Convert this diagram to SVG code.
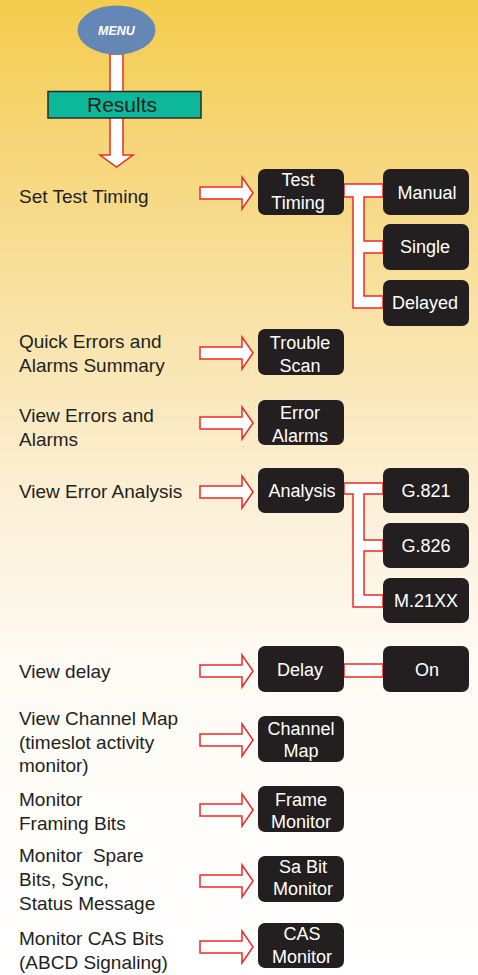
<svg xmlns="http://www.w3.org/2000/svg" width="478" height="975" viewBox="0 0 478 975">
<defs>
<linearGradient id="bg" gradientUnits="userSpaceOnUse" x1="0" y1="0" x2="0" y2="975">
<stop offset="0" stop-color="#f4cc4c"/>
<stop offset="0.15" stop-color="#f6d679"/>
<stop offset="0.33" stop-color="#f9e3a8"/>
<stop offset="0.52" stop-color="#fcf0d8"/>
<stop offset="0.68" stop-color="#fefbf4"/>
<stop offset="1" stop-color="#ffffff"/>
</linearGradient>
<path id="rarrow" d="M0,-6 H42 V-16 L53,0 L42,16 V6 H0 Z"/>
</defs>
<style>
.lbl{font-family:"Liberation Sans",Arial,sans-serif;font-size:19px;fill:#231f20}
.box{fill:#231f20}
.bt{font-family:"Liberation Sans",Arial,sans-serif;font-size:18px;fill:#ffffff;text-anchor:middle}
.arr{fill:#ffffff;stroke:#ee2a24;stroke-width:1.5}
</style>
<rect x="0" y="0" width="478" height="975" fill="url(#bg)"/>

<g id="connectors">
<path class="arr" d="M110,54 H123 V155 H133 L116.5,167 L100,155 H110 Z"/>
<use href="#rarrow" class="arr" x="200" y="193"/>
<use href="#rarrow" class="arr" x="200" y="353"/>
<use href="#rarrow" class="arr" x="200" y="423"/>
<use href="#rarrow" class="arr" x="200" y="492"/>
<use href="#rarrow" class="arr" x="200" y="671"/>
<use href="#rarrow" class="arr" x="200" y="740"/>
<use href="#rarrow" class="arr" x="200" y="810"/>
<use href="#rarrow" class="arr" x="200" y="881"/>
<use href="#rarrow" class="arr" x="200" y="947"/>
<path class="arr" d="M344,184 H383 V197 H364 V241 H383 V253 H364 V296 H383 V308 H353 V197 H344 Z"/>
<path class="arr" d="M344,483 H383 V494 H364 V540 H383 V551 H364 V595 H383 V607 H353 V494 H344 Z"/>
<path class="arr" d="M344,664 H383 V677 H344 Z"/>
</g>

<g id="menu">
<ellipse cx="116.5" cy="30" rx="39" ry="24.5" fill="#6587b5"/>
<text x="116.5" y="35" text-anchor="middle" font-family="'Liberation Sans',Arial,sans-serif" font-size="12.5" font-weight="bold" font-style="italic" fill="#ffffff">MENU</text>
</g>

<g id="results">
<rect x="48" y="91.5" width="153" height="26.5" fill="#0db89a" stroke="#2a2a2a" stroke-width="1.5"/>
<text x="122" y="112" text-anchor="middle" font-family="'Liberation Sans',Arial,sans-serif" font-size="21" fill="#231f20">Results</text>
</g>

<g id="labels">
<text class="lbl" x="19" y="203">Set Test Timing</text>
<text class="lbl" x="19" y="348">Quick Errors and</text>
<text class="lbl" x="19" y="372">Alarms Summary</text>
<text class="lbl" x="19" y="422">View Errors and</text>
<text class="lbl" x="19" y="446">Alarms</text>
<text class="lbl" x="19" y="498">View Error Analysis</text>
<text class="lbl" x="19" y="678">View delay</text>
<text class="lbl" x="19" y="725">View Channel Map</text>
<text class="lbl" x="19" y="749">(timeslot activity</text>
<text class="lbl" x="19" y="772">monitor)</text>
<text class="lbl" x="19" y="806">Monitor</text>
<text class="lbl" x="19" y="830">Framing Bits</text>
<text class="lbl" x="19" y="862" xml:space="preserve">Monitor  Spare</text>
<text class="lbl" x="19" y="886">Bits, Sync,</text>
<text class="lbl" x="19" y="910">Status Message</text>
<text class="lbl" x="19" y="945">Monitor CAS Bits</text>
<text class="lbl" x="19" y="969">(ABCD Signaling)</text>
</g>

<g id="test-timing"><rect class="box" x="258" y="169" width="86" height="46" rx="7"/><text class="bt" x="298" y="186">Test</text><text class="bt" x="298" y="209">Timing</text></g>
<g id="manual"><rect class="box" x="383" y="169" width="86" height="46" rx="7"/><text class="bt" x="427" y="199">Manual</text></g>
<g id="single"><rect class="box" x="383" y="224" width="86" height="46" rx="7"/><text class="bt" x="425" y="253">Single</text></g>
<g id="delayed"><rect class="box" x="383" y="280" width="86" height="46" rx="7"/><text class="bt" x="425" y="309">Delayed</text></g>
<g id="trouble-scan"><rect class="box" x="258" y="329" width="86" height="46" rx="7"/><text class="bt" x="300" y="349">Trouble</text><text class="bt" x="300" y="372">Scan</text></g>
<g id="error-alarms"><rect class="box" x="258" y="400" width="86" height="45" rx="7"/><text class="bt" x="300" y="419">Error</text><text class="bt" x="300" y="442">Alarms</text></g>
<g id="analysis"><rect class="box" x="258" y="468" width="86" height="45" rx="7"/><text class="bt" x="302" y="497">Analysis</text></g>
<g id="g821"><rect class="box" x="383" y="468" width="86" height="45" rx="7"/><text class="bt" x="426" y="497">G.821</text></g>
<g id="g826"><rect class="box" x="383" y="523" width="86" height="45" rx="7"/><text class="bt" x="426" y="552">G.826</text></g>
<g id="m21xx"><rect class="box" x="383" y="578" width="86" height="45" rx="7"/><text class="bt" x="426" y="607">M.21XX</text></g>
<g id="delay"><rect class="box" x="258" y="646" width="86" height="46" rx="7"/><text class="bt" x="300" y="676">Delay</text></g>
<g id="on"><rect class="box" x="383" y="646" width="86" height="46" rx="7"/><text class="bt" x="427" y="676">On</text></g>
<g id="channel-map"><rect class="box" x="258" y="716" width="86" height="46" rx="7"/><text class="bt" x="301" y="735">Channel</text><text class="bt" x="301" y="757">Map</text></g>
<g id="frame-monitor"><rect class="box" x="258" y="786" width="86" height="46" rx="7"/><text class="bt" x="301" y="806">Frame</text><text class="bt" x="301" y="828">Monitor</text></g>
<g id="sa-bit-monitor"><rect class="box" x="258" y="856" width="86" height="46" rx="7"/><text class="bt" x="303" y="873">Sa Bit</text><text class="bt" x="303" y="895">Monitor</text></g>
<g id="cas-monitor"><rect class="box" x="258" y="923" width="86" height="45" rx="7"/><text class="bt" x="302" y="940">CAS</text><text class="bt" x="302" y="963">Monitor</text></g>
</svg>
